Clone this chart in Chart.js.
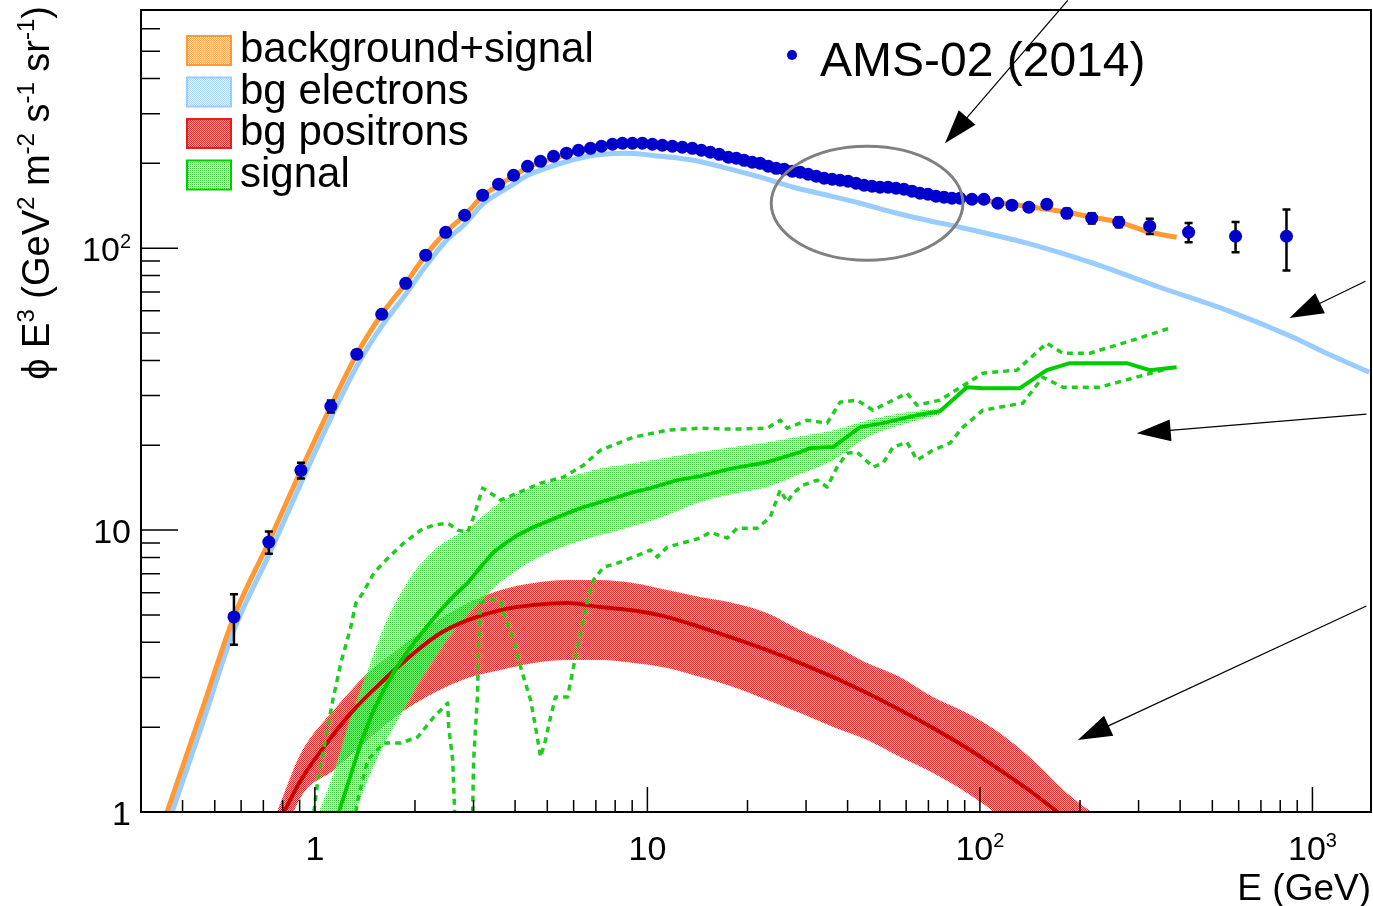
<!DOCTYPE html>
<html>
<head>
<meta charset="utf-8">
<title>AMS-02 e+ + e- flux</title>
<script src="https://cdn.jsdelivr.net/npm/chart.js"></script>
<style>
  html, body { margin: 0; padding: 0; background: #fff; overflow: hidden; }
  canvas { display: block; }
</style>
</head>
<body>
<canvas id="fluxChart" width="1373" height="906"></canvas>
<script>
// AMS-02 (2014) data points, E in GeV, flux times E^3
const amsE = [0.571, 0.727, 0.908, 1.117, 1.337, 1.589, 1.876, 2.154, 2.474, 2.821, 3.195, 3.569, 3.959, 4.362, 4.771, 5.221, 5.711, 6.206, 6.744, 7.275, 7.851, 8.412, 9.015, 9.66, 10.35, 11.09, 11.89, 12.74, 13.65, 14.53, 15.46, 16.45, 17.51, 18.51, 19.55, 20.67, 21.84, 23.09, 24.40, 25.78, 27.25, 28.80, 30.44, 32.18, 34.00, 35.94, 37.98, 40.14, 42.42, 44.84, 47.39, 50.08, 52.93, 55.94, 59.12, 62.49, 66.04, 69.80, 73.77, 77.96, 82.40, 87.09, 94.62, 102.8, 113.2, 124.8, 140.3, 158.9, 182.5, 216.9, 261.5, 324.0, 424.2, 587.2, 835.5];
const amsFlux = [4.92, 9.07, 16.3, 27.5, 42.1, 58.3, 75.1, 94.5, 113.9, 130.9, 154.2, 168.7, 181.5, 195.3, 203.4, 212.0, 217.3, 222.6, 226.2, 230.0, 233.8, 235.7, 235.7, 235.7, 233.8, 231.9, 230.0, 228.1, 226.2, 222.6, 219.0, 215.4, 210.2, 208.5, 205.1, 201.8, 200.1, 195.3, 192.1, 190.6, 187.5, 186.0, 183.0, 180.0, 177.1, 175.7, 174.2, 172.8, 170.0, 167.3, 165.9, 164.6, 164.6, 163.2, 161.9, 159.3, 156.7, 155.4, 152.9, 151.7, 150.4, 150.4, 149.2, 149.2, 144.4, 142.1, 139.8, 143.2, 133.1, 127.8, 123.7, 119.7, 114.0, 110.3, 110.3];
const amsErr = [1.0, 0.82, 1.05, 1.35, 1.3, 1.5, 1.7, 2.0, 2.2, 2.4, 2.6, 2.8, 3.0, 3.1, 3.2, 3.3, 3.3, 3.3, 3.3, 3.3, 3.3, 3.3, 3.3, 3.3, 3.3, 3.2, 3.2, 3.2, 3.2, 3.1, 3.1, 3.0, 3.0, 3.0, 3.0, 2.9, 2.9, 2.9, 2.9, 2.9, 2.9, 2.9, 2.9, 2.9, 2.9, 3.0, 3.0, 3.0, 3.0, 3.1, 3.1, 3.2, 3.2, 3.3, 3.4, 3.5, 3.5, 3.6, 3.7, 3.8, 3.9, 4.0, 3.4, 3.6, 3.8, 4.0, 4.3, 4.7, 5.0, 5.4, 5.0, 7.4, 8.9, 13.5, 27.0];

// background + signal (orange)
const totE = [0.3594, 0.4546, 0.571, 0.727, 0.908, 1.117, 1.337, 1.589, 1.876, 2.154, 2.474, 2.821, 3.195, 3.569, 3.959, 4.362, 4.771, 5.635, 6.885, 8.709, 10.94, 13.75, 17.39, 21.84, 27.44, 34.72, 43.62, 54.8, 69.32, 87.09, 124.8, 158.9, 182.5, 218.5, 261.5, 324.0, 390.5];
const totFlux = [1.0, 2.244, 4.92, 9.07, 16.3, 27.5, 42.1, 58.3, 75.1, 94.5, 113.9, 130.9, 152.9, 167.3, 180.0, 193.7, 201.8, 213.7, 228.1, 233.8, 231.9, 226.2, 210.2, 198.6, 187.5, 177.1, 170.0, 164.6, 155.4, 151.7, 143.2, 137.5, 134.2, 128.8, 123.7, 114.0, 109.4];

// bg electrons (light blue)
const elecE = [0.372, 0.4546, 0.571, 0.727, 0.908, 1.117, 1.337, 1.589, 1.876, 2.154, 2.474, 2.821, 3.195, 3.569, 3.959, 4.362, 4.771, 5.635, 6.885, 8.709, 10.94, 13.75, 17.39, 21.84, 27.44, 34.72, 43.62, 54.8, 69.32, 87.09, 138.4, 218.5, 347.1, 551.7, 870.9, 1102, 1483];
const elecFlux = [1.0, 1.986, 4.42, 8.15, 14.68, 24.96, 38.15, 52.9, 68.7, 86.4, 105.9, 121.7, 143.2, 156.7, 168.7, 181.5, 189.1, 201.8, 213.7, 217.3, 211.9, 205.1, 192.1, 178.6, 164.6, 154.2, 144.4, 134.2, 125.7, 118.7, 104.2, 88.5, 72.7, 60.3, 48.4, 42.4, 36.3];

// bg positrons (red): central line and band
const posE = [0.8071, 0.9078, 1.0642, 1.2826, 1.6117, 2.0385, 2.390, 2.8813, 3.619, 4.5467, 5.7518, 7.2256, 8.8899, 11.482, 14.426, 18.125, 22.93, 28.806, 36.19, 45.785, 57.518, 72.256, 91.41, 114.82, 144.26, 172.7];
const posFlux = [1.0, 1.298, 1.700, 2.244, 2.938, 3.754, 4.313, 4.795, 5.203, 5.420, 5.510, 5.333, 5.203, 4.915, 4.529, 4.140, 3.754, 3.376, 3.010, 2.642, 2.300, 1.986, 1.686, 1.409, 1.168, 0.992];
const posBandE = [0.7636, 0.9078, 1.1405, 1.4428, 1.8126, 2.2773, 2.8813, 3.619, 4.5467, 5.7518, 7.2256, 9.0763, 11.482, 14.426, 18.125, 22.93, 28.806, 36.19, 45.785, 57.518, 72.256, 91.41, 114.82, 144.26, 182.5, 218.5];
const posBandHi = [0.98, 1.619, 2.300, 3.111, 3.847, 4.679, 5.510, 6.127, 6.488, 6.648, 6.648, 6.488, 6.127, 5.787, 5.510, 5.078, 4.419, 3.910, 3.376, 3.010, 2.557, 2.244, 1.906, 1.529, 1.168, 0.992];
const posBandLo = [0.676, 1.130, 1.409, 1.800, 2.244, 2.642, 2.987, 3.188, 3.376, 3.459, 3.459, 3.376, 3.241, 3.010, 2.775, 2.495, 2.244, 2.001, 1.800, 1.567, 1.375, 1.168, 0.960, 0.733, 0.529, 0.414];

// signal (green): central line, band, dotted outer limits
const sigE = [1.1807, 1.2826, 1.3747, 1.4936, 1.6117, 1.7632, 1.9422, 2.1544, 2.390, 2.6151, 2.8813, 3.1514, 3.448, 3.7468, 4.0696, 4.5467, 5.1133, 5.7518, 6.4254, 7.2256, 8.1262, 9.0763, 10.21, 12.307, 14.426, 18.125, 22.93, 28.806, 30.87, 36.19, 43.62, 51.13, 64.69, 75.83, 91.41, 102.1, 131.9, 158.9, 186.3, 276.4, 324.0, 390.5];
const sigFlux = [1.0, 1.353, 1.756, 2.262, 2.708, 3.268, 3.847, 4.493, 5.203, 5.834, 6.488, 7.391, 8.356, 8.994, 9.601, 10.25, 10.85, 11.49, 12.06, 12.57, 13.09, 13.64, 14.09, 15.04, 15.54, 16.59, 17.42, 18.91, 19.54, 19.70, 23.19, 23.96, 25.57, 26.42, 32.14, 31.88, 31.88, 36.93, 39.10, 39.10, 36.93, 37.84];
const sigBandE = [1.028, 1.1405, 1.2826, 1.4428, 1.6117, 1.8126, 2.0385, 2.2773, 2.5614, 2.8813, 3.2175, 3.619, 4.0696, 4.5467, 5.7518, 7.2256, 9.0763, 11.482, 14.426, 18.125, 22.93, 28.806, 36.19, 45.785, 57.518, 75.83];
const sigBandHi = [1.0, 1.386, 2.172, 3.188, 4.529, 5.978, 7.391, 8.494, 9.368, 10.16, 11.30, 12.57, 13.53, 14.21, 15.42, 16.59, 17.28, 18.15, 18.91, 19.70, 20.51, 21.54, 22.62, 24.55, 25.99, 27.08];
const sigBandLo = [0.623, 0.733, 0.922, 1.298, 1.728, 2.208, 2.820, 3.459, 4.243, 4.995, 5.740, 6.541, 7.215, 7.828, 8.847, 9.601, 10.33, 11.30, 12.57, 13.42, 14.21, 15.80, 17.71, 21.37, 23.57, 25.78];
const sigUpE = [0.9931, 1.021, 1.079, 1.1325, 1.1971, 1.2826, 1.328, 1.3938, 1.504, 1.6569, 1.8506, 2.0812, 2.2773, 2.5084, 2.6887, 2.8813, 3.0023, 3.1953, 3.3772, 3.619, 4.0696, 4.772, 5.5949, 6.4254, 7.2256, 9.0763, 11.482, 14.426, 18.125, 22.93, 25.084, 26.33, 30.23, 34.72, 37.98, 42.72, 47.72, 54.8, 60.36, 64.69, 75.83, 91.41, 102.1, 129.2, 158.9, 177.6, 214.0, 288.1, 379.8];
const sigUpFlux = [1.0, 1.298, 1.845, 2.495, 3.376, 4.529, 5.510, 5.978, 7.039, 7.956, 8.994, 10.0, 10.42, 10.59, 10.0, 9.838, 11.12, 14.09, 13.53, 12.78, 13.53, 14.68, 15.42, 17.00, 19.22, 21.37, 22.62, 23.00, 22.81, 23.00, 24.55, 23.00, 24.55, 23.96, 28.44, 28.91, 26.64, 28.91, 30.60, 27.75, 28.91, 33.20, 36.04, 36.93, 46.04, 42.42, 42.42, 47.19, 52.47];
const sigLoE = [1.328, 1.3559, 1.4428, 1.6117, 1.8126, 2.0385, 2.2773, 2.5084, 2.526, 2.5971, 2.633, 2.80, 2.9816, 3.0023, 3.0866, 3.108, 3.1514, 3.3078, 3.619, 3.6954, 3.959, 4.1551, 4.4535, 4.61, 4.772, 4.9394, 5.1133, 5.2932, 5.7518, 5.9948, 6.2934, 6.6056, 6.8848, 7.3771, 8.1262, 8.8899, 10.21, 10.715, 11.482, 14.426, 15.461, 17.393, 18.637, 21.399, 23.41, 25.084, 26.33, 27.44, 29.41, 32.40, 34.72, 37.20, 39.86, 42.72, 47.72, 51.13, 54.80, 60.36, 64.69, 72.26, 81.26, 88.91, 102.1, 134.6, 154.6, 177.6, 229.3, 288.1, 379.8];
const sigLoFlux = [1.0, 1.149, 1.529, 1.756, 1.756, 1.845, 2.172, 2.435, 2.001, 1.529, 1.0, 0.3, 1.0, 1.529, 2.642, 3.975, 5.510, 5.646, 5.646, 5.078, 4.073, 3.268, 2.495, 2.001, 1.567, 1.800, 2.172, 2.557, 2.557, 3.268, 4.313, 5.646, 6.648, 7.391, 7.638, 7.956, 8.494, 8.022, 8.706, 9.368, 9.838, 9.368, 10.16, 10.16, 11.12, 13.87, 12.57, 13.53, 14.44, 15.04, 14.21, 16.73, 18.75, 18.91, 16.73, 17.28, 19.70, 20.51, 17.71, 19.22, 20.35, 23.19, 26.64, 28.21, 34.87, 32.14, 32.14, 34.59, 37.84];

// axis ticks and labels
const xMajor = [1, 10, 100, 1000];
const xMinor = [0.4, 0.5, 0.6, 0.7, 0.8, 0.9, 2, 3, 4, 5, 6, 7, 8, 9, 20, 30, 40, 50, 60, 70, 80, 90, 200, 300, 400, 500, 600, 700, 800, 900];
const yMajor = [1, 10, 100];
const yMinor = [2, 3, 4, 5, 6, 7, 8, 9, 20, 30, 40, 50, 60, 70, 80, 90, 200, 300, 400, 500, 600];
const xTickBase = ['1', '10', '10', '10'];
const xTickExp = ['', '', '2', '3'];
const yTickBase = ['1', '10', '10'];
const yTickExp = ['', '', '2'];

const legendLabels = ['background+signal', 'bg electrons', 'bg positrons', 'signal'];
const dataLabel = 'AMS-02 (2014)';

// annotations, in data units: arrows (tail -> tip) and the ellipse box
const arrowTail = [[183.8, 757.6], [1443, 76.4], [1453, 25.78], [1453, 5.377]];
const arrowTip = [[78.5, 235.7], [853, 56.5], [296.1, 22.08], [197.0, 1.80]];
const ellipseE = [23.57, 88.91];
const ellipseFlux = [90.7, 230.0];

const FONT = '"Liberation Sans", Arial, Helvetica, sans-serif';

function pts(xs, ys) {
    return xs.map((x, i) => ({ x: x, y: ys[i] }));
}

// little 2x2 stipple patterns, like ROOT fill style 3001
function stipple(a, b, c, d) {
    const cv = document.createElement('canvas');
    cv.width = 2; cv.height = 2;
    const g = cv.getContext('2d');
    [[a, 0, 0], [b, 1, 0], [c, 0, 1], [d, 1, 1]].forEach(p => {
        if (p[0]) { g.fillStyle = p[0]; g.fillRect(p[1], p[2], 1, 1); }
    });
    return g.createPattern(cv, 'repeat');
}

const redFill = stipple('#d83030', '#f3b0b0', '#f3b0b0', '#d83030');
const greenFill = stipple('#3ccc3c', null, null, 'rgba(60,204,60,0.35)');
const orangeFill = stipple('#ffa857', '#ffe2c4', '#ffe2c4', '#ffa857');
const blueFill = stipple('#b0d6ff', '#e8f3ff', '#e8f3ff', '#b0d6ff');

function drawLabel(c, base, exp, x, y, size, align) {
    c.font = size + 'px ' + FONT;
    const wb = c.measureText(base).width;
    const ss = Math.round(size * 0.6);
    c.font = ss + 'px ' + FONT;
    const we = exp ? c.measureText(exp).width : 0;
    const total = wb + we;
    const x0 = align === 'right' ? x - total : (align === 'center' ? x - total / 2 : x);
    c.textAlign = 'left';
    c.textBaseline = 'alphabetic';
    c.font = size + 'px ' + FONT;
    c.fillText(base, x0, y);
    if (exp) {
        c.font = ss + 'px ' + FONT;
        c.fillText(exp, x0 + wb, y - size * 0.38);
    }
}

function partsWidth(c, parts, size) {
    let w = 0;
    parts.forEach(p => {
        c.font = (p[1] ? Math.round(size * 0.62) : size) + 'px ' + FONT;
        w += c.measureText(p[0]).width;
    });
    return w;
}

function drawParts(c, parts, x, y, size) {
    let cx = x;
    parts.forEach(p => {
        c.font = (p[1] ? Math.round(size * 0.62) : size) + 'px ' + FONT;
        c.fillText(p[0], cx, p[1] ? y - size * 0.4 : y);
        cx += c.measureText(p[0]).width;
    });
}

function arrow(c, x1, y1, x2, y2) {
    const ang = Math.atan2(y2 - y1, x2 - x1);
    const L = 34, W = 11;
    const ca = Math.cos(ang), sa = Math.sin(ang);
    c.beginPath();
    c.moveTo(x1, y1);
    c.lineTo(x2 - L * 0.8 * ca, y2 - L * 0.8 * sa);
    c.stroke();
    c.beginPath();
    c.moveTo(x2, y2);
    c.lineTo(x2 - L * ca + W * sa, y2 - L * sa - W * ca);
    c.lineTo(x2 - L * ca - W * sa, y2 - L * sa + W * ca);
    c.closePath();
    c.fill();
}

const errorBars = {
    id: 'errorBars',
    beforeDatasetDraw(chart, args) {
        if (args.index !== 0) return;
        const xs = chart.scales.x, ys = chart.scales.y, c = chart.ctx;
        c.save();
        c.strokeStyle = '#000';
        c.lineWidth = 2.5;
        amsE.forEach((e, i) => {
            const px = xs.getPixelForValue(e);
            const top = ys.getPixelForValue(amsFlux[i] + amsErr[i]);
            const bot = ys.getPixelForValue(amsFlux[i] - amsErr[i]);
            c.beginPath();
            c.moveTo(px, top); c.lineTo(px, bot);
            c.moveTo(px - 4, top); c.lineTo(px + 4, top);
            c.moveTo(px - 4, bot); c.lineTo(px + 4, bot);
            c.stroke();
        });
        c.restore();
    }
};

const frameAndText = {
    id: 'frameAndText',
    afterDraw(chart) {
        const c = chart.ctx, a = chart.chartArea;
        const xs = chart.scales.x, ys = chart.scales.y;
        c.save();

        // ticks, inside the frame
        c.strokeStyle = '#000';
        c.lineWidth = 1.5;
        c.beginPath();
        xMajor.forEach(v => { const p = xs.getPixelForValue(v); c.moveTo(p, a.bottom); c.lineTo(p, a.bottom - 25); });
        xMinor.forEach(v => { const p = xs.getPixelForValue(v); c.moveTo(p, a.bottom); c.lineTo(p, a.bottom - 12); });
        yMajor.forEach(v => { const p = ys.getPixelForValue(v); c.moveTo(a.left, p); c.lineTo(a.left + 37, p); });
        yMinor.forEach(v => { const p = ys.getPixelForValue(v); c.moveTo(a.left, p); c.lineTo(a.left + 19, p); });
        c.stroke();

        c.lineWidth = 2;
        c.strokeRect(a.left, a.top, a.right - a.left, a.bottom - a.top);

        // tick labels
        c.fillStyle = '#000';
        xMajor.forEach((v, i) => drawLabel(c, xTickBase[i], xTickExp[i], xs.getPixelForValue(v), a.bottom + 48, 34, 'center'));
        yMajor.forEach((v, i) => drawLabel(c, yTickBase[i], yTickExp[i], a.left - 10, ys.getPixelForValue(v) + 13, 34, 'right'));

        // axis titles
        drawLabel(c, 'E (GeV)', '', a.right, 900, 37, 'right');
        const yTitle = [['\u03d5 E', 0], ['3', 1], [' (GeV', 0], ['2', 1], [' m', 0], ['-2', 1], [' s', 0], ['-1', 1], [' sr', 0], ['-1', 1], [')', 0]];
        c.save();
        c.translate(49, 6);
        c.rotate(-Math.PI / 2);
        c.textAlign = 'left';
        c.textBaseline = 'alphabetic';
        const tw = partsWidth(c, yTitle, 38);
        drawParts(c, yTitle, -tw, 0, 38);
        c.restore();

        // legend with swatches
        const fills = [orangeFill, blueFill, redFill, greenFill];
        const borders = ['#ff9933', '#99ccff', '#dd2222', '#00cc00'];
        legendLabels.forEach((t, i) => {
            const bx = a.left + 46, by = a.top + 26 + i * 41.5;
            c.fillStyle = '#fff';
            c.fillRect(bx, by, 44, 29);
            c.fillStyle = fills[i];
            c.fillRect(bx, by, 44, 29);
            c.strokeStyle = borders[i];
            c.lineWidth = 2;
            c.strokeRect(bx, by, 44, 29);
            c.fillStyle = '#000';
            drawLabel(c, t, '', a.left + 99, by + 26, 42, 'left');
        });

        // data legend
        c.fillStyle = '#0000cc';
        c.beginPath();
        c.arc(a.left + 651, 55, 5, 0, Math.PI * 2);
        c.fill();
        c.fillStyle = '#000';
        drawLabel(c, dataLabel, '', a.left + 679, 76, 48, 'left');

        // ellipse
        const ex0 = xs.getPixelForValue(ellipseE[0]), ex1 = xs.getPixelForValue(ellipseE[1]);
        const ey0 = ys.getPixelForValue(ellipseFlux[0]), ey1 = ys.getPixelForValue(ellipseFlux[1]);
        c.strokeStyle = '#808080';
        c.lineWidth = 3;
        c.beginPath();
        c.ellipse((ex0 + ex1) / 2, (ey0 + ey1) / 2, (ex1 - ex0) / 2, (ey0 - ey1) / 2, 0, 0, Math.PI * 2);
        c.stroke();

        // arrows
        c.strokeStyle = '#000';
        c.fillStyle = '#000';
        c.lineWidth = 1.2;
        arrowTail.forEach((t, i) => {
            arrow(c, xs.getPixelForValue(t[0]), ys.getPixelForValue(t[1]),
                xs.getPixelForValue(arrowTip[i][0]), ys.getPixelForValue(arrowTip[i][1]));
        });
        c.restore();
    }
};

const lineBase = { pointRadius: 0, fill: false, borderCapStyle: 'butt', borderJoinStyle: 'round' };

const ctx = document.getElementById('fluxChart').getContext('2d');
new Chart(ctx, {
    type: 'line',
    data: {
        datasets: [
            { label: dataLabel, data: pts(amsE, amsFlux), showLine: false, pointRadius: 6.5,
              pointBackgroundColor: '#0000cc', pointBorderWidth: 0, order: 0 },
            Object.assign({ label: 'background+signal', data: pts(totE, totFlux), borderColor: '#ff9933',
              borderWidth: 5, cubicInterpolationMode: 'monotone', order: 1 }, lineBase),
            Object.assign({ label: 'bg electrons', data: pts(elecE, elecFlux), borderColor: '#99ccff',
              borderWidth: 5, cubicInterpolationMode: 'monotone', order: 2 }, lineBase),
            Object.assign({ label: 'signal', data: pts(sigE, sigFlux), borderColor: '#00cc00',
              borderWidth: 4, tension: 0, order: 3 }, lineBase),
            Object.assign({ label: 'signal max', data: pts(sigUpE, sigUpFlux), borderColor: '#1fcc1f',
              borderWidth: 3.5, borderDash: [6, 5], tension: 0, order: 4 }, lineBase),
            Object.assign({ label: 'signal min', data: pts(sigLoE, sigLoFlux), borderColor: '#1fcc1f',
              borderWidth: 3.5, borderDash: [6, 5], tension: 0, order: 4 }, lineBase),
            { label: 'signal band hi', data: pts(sigBandE, sigBandHi), pointRadius: 0, borderWidth: 0,
              borderColor: 'rgba(0,0,0,0)', backgroundColor: greenFill, fill: '+1',
              cubicInterpolationMode: 'monotone', order: 6 },
            { label: 'signal band lo', data: pts(sigBandE, sigBandLo), pointRadius: 0, borderWidth: 0,
              borderColor: 'rgba(0,0,0,0)', fill: false, cubicInterpolationMode: 'monotone', order: 6 },
            Object.assign({ label: 'bg positrons', data: pts(posE, posFlux), borderColor: '#cc0000',
              borderWidth: 4, cubicInterpolationMode: 'monotone', order: 5 }, lineBase),
            { label: 'positron band hi', data: pts(posBandE, posBandHi), pointRadius: 0, borderWidth: 0,
              borderColor: 'rgba(0,0,0,0)', backgroundColor: redFill, fill: '+1',
              cubicInterpolationMode: 'monotone', order: 7 },
            { label: 'positron band lo', data: pts(posBandE, posBandLo), pointRadius: 0, borderWidth: 0,
              borderColor: 'rgba(0,0,0,0)', fill: false, cubicInterpolationMode: 'monotone', order: 7 }
        ]
    },
    options: {
        responsive: false,
        animation: false,
        devicePixelRatio: 1,
        layout: { autoPadding: false, padding: { left: 141, right: 2, top: 10, bottom: 94 } },
        plugins: { legend: { display: false }, tooltip: { enabled: false } },
        scales: {
            x: { type: 'logarithmic', min: 0.3, max: 1500, bounds: 'data', display: false },
            y: { type: 'logarithmic', min: 1, max: 700, bounds: 'data', display: false }
        }
    },
    plugins: [errorBars, frameAndText]
});
</script>
</body>
</html>
